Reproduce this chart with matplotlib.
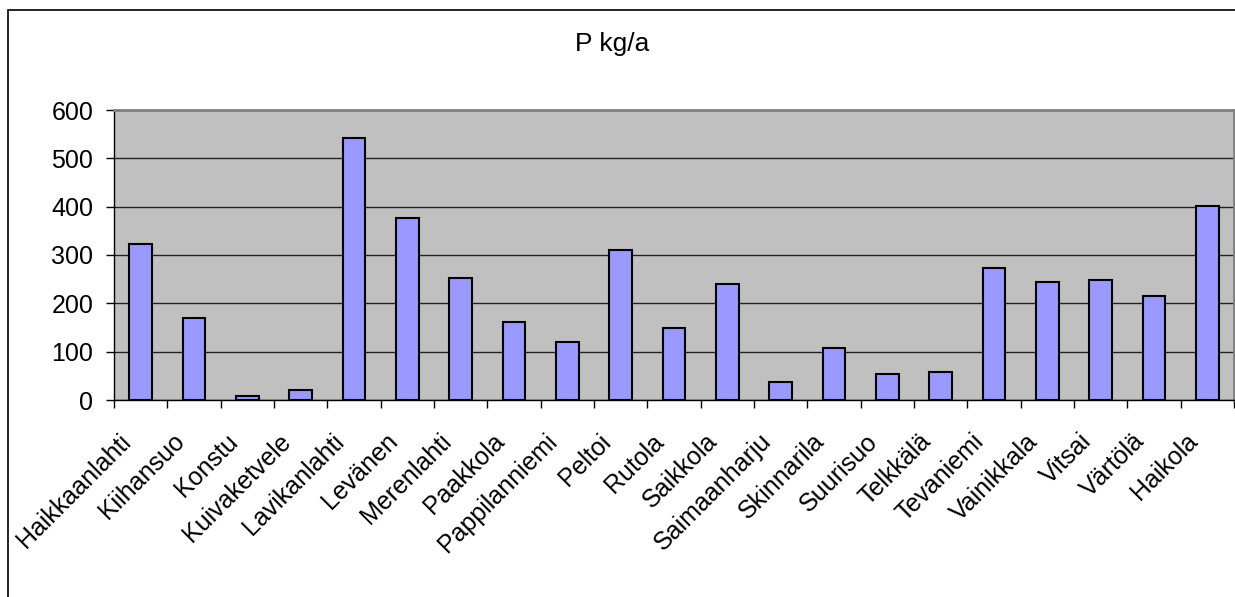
import numpy as np
import matplotlib
matplotlib.use('Agg')
import matplotlib.pyplot as plt
from matplotlib.patches import Rectangle
from matplotlib.transforms import ScaledTranslation

plt.rcParams['font.family'] = ['Liberation Sans', 'DejaVu Sans']

places = ['Haikkaanlahti', 'Kiihansuo', 'Konstu', 'Kuivaketvele', 'Lavikanlahti',
          'Levänen', 'Merenlahti', 'Paakkola', 'Pappilanniemi', 'Peltoi', 'Rutola',
          'Saikkola', 'Saimaanharju', 'Skinnarila', 'Suurisuo', 'Telkkälä',
          'Tevaniemi', 'Vainikkala', 'Vitsai', 'Värtölä', 'Haikola']
p_kg = [323, 170, 8, 21, 542, 377, 252, 161, 120, 310, 149, 240, 37, 108, 54,
        58, 273, 244, 248, 215, 401]
yticks = [0, 100, 200, 300, 400, 500, 600]

fig = plt.figure(figsize=(12.35, 5.97), dpi=100)
# chart border (Excel chart area)
fig.patches.append(Rectangle((8 / 1235, -0.1), 1.2, (597 - 10) / 597 + 0.1,
                             transform=fig.transFigure, fill=False,
                             edgecolor='black', linewidth=1.2))

ax = fig.add_axes([114 / 1235, (597 - 400) / 597, 1120 / 1235, 290 / 597])
ax.set_facecolor('#C0C0C0')

x = np.arange(len(places))
ax.bar(x, p_kg, width=0.42, color='#9999FF', edgecolor='black', linewidth=1.5, zorder=3)

ax.set_xlim(-0.5, len(places) - 0.5)
ax.set_ylim(0, 600)
ax.set_yticks(yticks)
ax.set_yticklabels([str(v) for v in yticks], fontsize=18)
ax.yaxis.grid(True, color='#222222', linewidth=1)
ax.set_axisbelow(True)
ax.tick_params(axis='y', length=6, width=1, pad=9)

ax.set_xticks(x)
ax.set_xticklabels(places, rotation=45, ha='right', rotation_mode='anchor', fontsize=18)
ax.tick_params(axis='x', which='major', length=0, pad=21)
shift = ScaledTranslation(-22 / 100, 0, fig.dpi_scale_trans)
for lab in ax.get_xticklabels():
    lab.set_transform(lab.get_transform() + shift)
ax.set_xticks(np.arange(len(places) + 1) - 0.5, minor=True)
ax.tick_params(axis='x', which='minor', length=6, width=1)

for side in ['top', 'right']:
    ax.spines[side].set_color('#808080')
    ax.spines[side].set_linewidth(2)
for side in ['left', 'bottom']:
    ax.spines[side].set_color('black')
    ax.spines[side].set_linewidth(1)

fig.text(612 / 1235, 1 - 44 / 597, 'P kg/a', ha='center', va='center', fontsize=19)

fig.savefig('out.png', dpi=100)
